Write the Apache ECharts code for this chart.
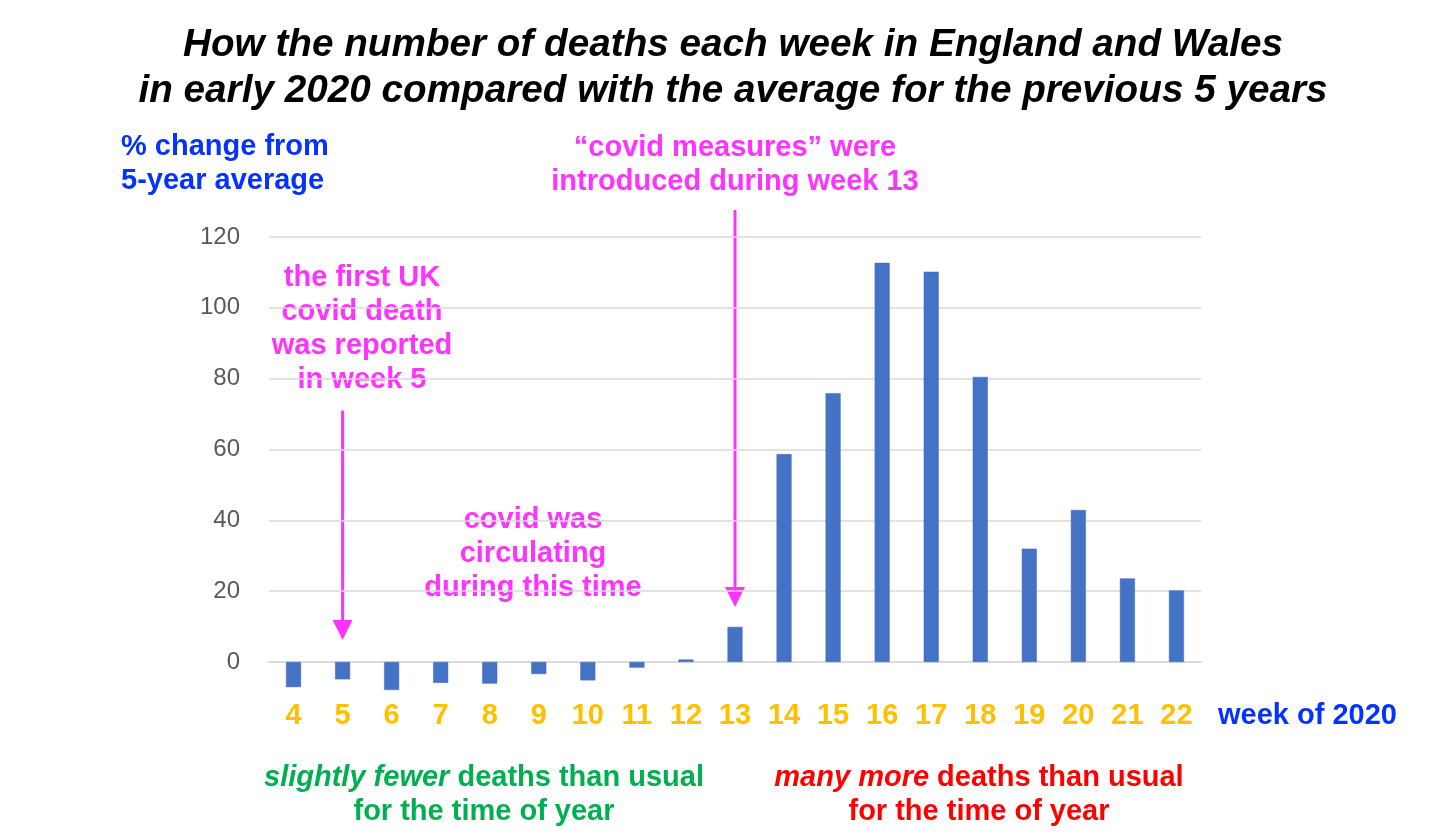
<!DOCTYPE html>
<html><head><meta charset="utf-8">
<script src="https://cdn.jsdelivr.net/npm/echarts@6/dist/echarts.min.js"></script>
<style>html,body{margin:0;padding:0;background:#fff}#c{width:1456px;height:838px}</style>
</head><body><div id="c"></div>
<script>
// ---- data ----
const weeks = ['4','5','6','7','8','9','10','11','12','13','14','15','16','17','18','19','20','21','22'];
const pctChange = [-7.1, -4.9, -7.9, -5.9, -6.1, -3.4, -5.2, -1.6, 0.7, 9.9, 58.7, 75.9, 112.7, 110.2, 80.5, 32.0, 42.9, 23.6, 20.2];
const titleLines = ['How the number of deaths each week in England and Wales', 'in early 2020 compared with the average for the previous 5 years'];
const yAxisTitle = ['% change from', '5-year average'];
const xAxisTitle = 'week of 2020';
const noteFirstDeath = ['the first UK', 'covid death', 'was reported', 'in week 5'];
const noteMeasures = ['\u201Ccovid measures\u201D were', 'introduced during week 13'];
const noteCirculating = ['covid was', 'circulating', 'during this time'];
// arrows: [week, start value, tip value]
const arrowFirstDeath = ['5', 71, 6.2];
const arrowMeasures = ['13', 127.6, 15.5];

const FONT = '"Liberation Sans", Arial, sans-serif';
const FS = 29;
const MAGENTA = '#ff33ff', BLUE = '#0433ff', GREEN = '#00b050', RED = '#ff0000', GOLD = '#ffc000';

const chart = echarts.init(document.getElementById('c'), null, {renderer: 'canvas'});

function txt(lines, x, y, fill, align) {
  return {
    type: 'text', silent: true,
    style: {
      text: lines.join('\n'), x: x, y: y, fill: fill,
      font: 'bold ' + FS + 'px ' + FONT, lineHeight: 34,
      textAlign: align || 'center', textVerticalAlign: 'middle'
    }
  };
}
function mixed(italicPart, rest, line2, x, y, fill) {
  return {
    type: 'text', silent: true,
    style: {
      text: '{i|' + italicPart + '}{n|' + rest + '}\n{n|' + line2 + '}',
      x: x, y: y, textAlign: 'center', textVerticalAlign: 'middle',
      rich: {
        i: {fontStyle: 'italic', fontWeight: 'bold', fontSize: FS, fontFamily: FONT, fill: fill, lineHeight: 34},
        n: {fontWeight: 'bold', fontSize: FS, fontFamily: FONT, fill: fill, lineHeight: 34}
      }
    }
  };
}

const gridTop = 237, gridH = 495.8, yMin = -20, yMax = 120;
const zeroOffset = gridH * (0 - yMin) / (yMax - yMin); // px from grid bottom to value 0

chart.setOption({
  animation: false,
  backgroundColor: '#ffffff',
  title: {
    text: titleLines.join('\n'),
    left: 728, top: 17, textAlign: 'center',
    textStyle: {fontFamily: FONT, fontSize: 38.7, fontWeight: 'bold', fontStyle: 'italic', color: '#000', lineHeight: 46, align: 'center'}
  },
  grid: {left: 269, right: 255, top: gridTop, height: gridH, containLabel: false},
  xAxis: {
    type: 'category', data: weeks, offset: -zeroOffset,
    axisLine: {show: true, onZero: false, lineStyle: {color: '#d9d9d9', width: 1.5}},
    axisTick: {show: false},
    axisLabel: {color: GOLD, fontFamily: FONT, fontWeight: 'bold', fontSize: FS, margin: 40, interval: 0}
  },
  yAxis: {
    type: 'value', min: yMin, max: yMax, interval: 20,
    axisLine: {show: false}, axisTick: {show: false},
    axisLabel: {color: '#595959', fontFamily: FONT, fontSize: 24, margin: 29,
      formatter: v => (v < 0 ? '' : String(v))},
    splitLine: {show: true, showMinLine: false, lineStyle: {color: '#d9d9d9', width: 1.5}}
  },
  series: [{
    type: 'bar', data: pctChange, barWidth: 15,
    itemStyle: {color: '#4472c4', borderColor: '#3f6abc', borderWidth: 0.5}
  }],
  graphic: [
    txt(yAxisTitle, 121, 164, BLUE, 'left'),
    txt(noteMeasures, 735, 165, MAGENTA),
    txt(noteFirstDeath, 362, 329, MAGENTA),
    txt(noteCirculating, 533, 554, MAGENTA),
    {type: 'text', silent: true, style: {text: xAxisTitle, x: 1218, y: 716, fill: BLUE,
      font: 'bold ' + FS + 'px ' + FONT, textAlign: 'left', textVerticalAlign: 'middle'}},
    mixed('slightly fewer', ' deaths than usual', 'for the time of year', 484, 795, GREEN),
    mixed('many more', ' deaths than usual', 'for the time of year', 979, 795, RED)
  ]
});

// arrows positioned through the chart's own scales
function arrow(spec, id) {
  const idx = weeks.indexOf(spec[0]);
  const p0 = chart.convertToPixel({gridIndex: 0}, [idx, spec[1]]);
  const p1 = chart.convertToPixel({gridIndex: 0}, [idx, spec[2]]);
  const x = p0[0], headH = 20, headW = 20;
  return [
    {type: 'line', id: id + 'l', silent: true,
      shape: {x1: x, y1: p0[1], x2: x, y2: p1[1] - headH + 2},
      style: {stroke: MAGENTA, lineWidth: 3}},
    {type: 'polygon', id: id + 'h', silent: true,
      shape: {points: [[x - headW / 2, p1[1] - headH], [x + headW / 2, p1[1] - headH], [x, p1[1]]]},
      style: {fill: MAGENTA}}
  ];
}
chart.setOption({graphic: [].concat(arrow(arrowFirstDeath, 'a1'), arrow(arrowMeasures, 'a2'))});
</script>
</body></html>
